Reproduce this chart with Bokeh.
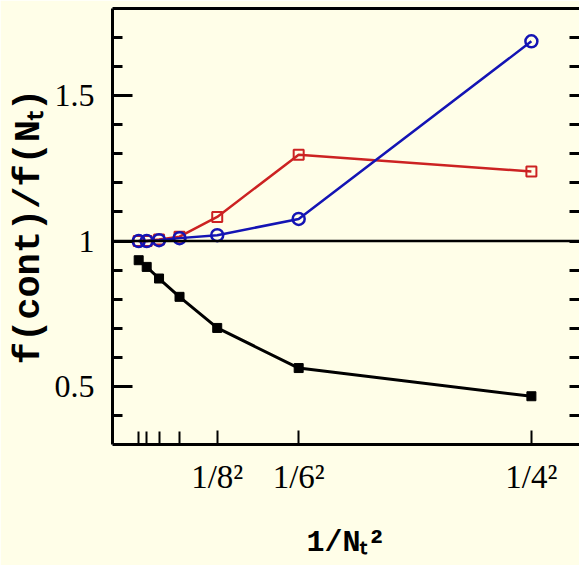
from bokeh.plotting import figure
from bokeh.models import FixedTicker, LinearAxis, Span, Range1d
from bokeh.embed import file_html
from bokeh.resources import INLINE

# ---------------- data ----------------
Nt = [16, 14, 12, 10, 8, 6, 4]
black_vals = [0.934, 0.911, 0.871, 0.808, 0.701, 0.563, 0.466]
red_vals = [1.000, 1.000, 1.005, 1.015, 1.083, 1.297, 1.239]
blue_vals = [1.000, 1.000, 1.003, 1.010, 1.020, 1.076, 1.687]

x_major_Nt = [8, 6, 4]
x_major_text = ["1/8\u00b2", "1/6\u00b2", "1/4\u00b2"]
x_minor_Nt = [16, 14, 12, 10]
y_major_ticks = [0.5, 1.0, 1.5]
y_major_text = ["0.5", "1", "1.5"]
y_minor_ticks = [0.4, 0.5, 0.6, 0.7, 0.8, 0.9, 1.0, 1.1, 1.2, 1.3, 1.4, 1.5, 1.6, 1.7]
x_title = "1/N\u209c\u00b2"
y_title = "f(cont)/f(N\u209c)"

x = [1.0 / n ** 2 for n in Nt]
x_major = [1.0 / n ** 2 for n in x_major_Nt]
x_minor = [1.0 / n ** 2 for n in x_minor_Nt]

BG = "#fffee8"
RED = "#cc2222"
BLUE = "#1414b4"

W, H = 579, 565
LEFT, TOP, BOTTOM, RIGHT = 112, 8, 121, 0
FL, FR = 112.0, 578.0
X0 = 0.0
X1 = 0.0625 * (FR - FL) / (530.0 - FL)
Y0, Y1 = 0.30, 1.80

p = figure(width=W, height=H, output_backend="svg", toolbar_location=None,
           x_range=Range1d(X0, X1), y_range=Range1d(Y0, Y1),
           min_border_left=LEFT, min_border_top=TOP,
           min_border_bottom=BOTTOM, min_border_right=RIGHT,
           background_fill_color=BG, border_fill_color=BG)
p.grid.visible = False
p.outline_line_color = None

MONO = "Liberation Mono"
SERIF = "Liberation Serif"

# x axis
xa = p.xaxis[0]
xa.ticker = FixedTicker(ticks=x_major, minor_ticks=x_minor)
xa.major_label_overrides = {t: s for t, s in zip(x_major, x_major_text)}
xa.major_tick_in = 14
xa.major_tick_out = 0
xa.minor_tick_in = 13
xa.minor_tick_out = 0
xa.major_tick_line_width = 2
xa.minor_tick_line_width = 2
xa.axis_line_width = 3
xa.major_label_standoff = 14
xa.major_label_text_font = SERIF
xa.major_label_text_font_size = "33px"
xa.major_label_text_color = "black"
xa.axis_label = x_title
xa.axis_label_text_font = MONO
xa.axis_label_text_font_style = "bold"
xa.axis_label_text_font_size = "30px"
xa.axis_label_text_color = "black"
xa.axis_label_standoff = 28

# y axis
ya = p.yaxis[0]
ya.ticker = FixedTicker(ticks=y_major_ticks, minor_ticks=y_minor_ticks)
ya.major_label_overrides = {t: s for t, s in zip(y_major_ticks, y_major_text)}
ya.major_tick_in = 20
ya.major_tick_out = 0
ya.minor_tick_in = 10
ya.minor_tick_out = 0
ya.major_tick_line_width = 3
ya.minor_tick_line_width = 3
ya.axis_line_width = 3
ya.major_label_standoff = 18
ya.major_label_text_font = SERIF
ya.major_label_text_font_size = "32px"
ya.major_label_text_color = "black"
ya.axis_label = y_title
ya.axis_label_text_font = MONO
ya.axis_label_text_font_style = "bold"
ya.axis_label_text_font_size = "37px"
ya.axis_label_text_color = "black"
ya.axis_label_standoff = 2

# top frame line (axis without ticks or labels)
ta = LinearAxis(ticker=FixedTicker(ticks=[], minor_ticks=[]),
                axis_line_width=3, major_tick_line_color=None,
                minor_tick_line_color=None, major_label_standoff=0)
p.add_layout(ta, "above")

# right axis: inward ticks only
ra = LinearAxis(ticker=FixedTicker(ticks=[], minor_ticks=y_minor_ticks),
                minor_tick_in=10, minor_tick_out=0, minor_tick_line_width=3,
                major_tick_line_color=None, axis_line_color=None,
                major_label_standoff=0)
p.add_layout(ra, "right")

# reference line at 1
p.add_layout(Span(location=1.0, dimension="width", line_color="black", line_width=2.5))

# series
p.line(x, red_vals, line_color=RED, line_width=2.5)
p.scatter(x, red_vals, marker="square", size=10, fill_color=None,
          line_color=RED, line_width=2)
p.line(x, blue_vals, line_color=BLUE, line_width=2.5)
p.scatter(x, blue_vals, marker="circle", size=12, fill_color=None,
          line_color=BLUE, line_width=2.5)
p.line(x, black_vals, line_color="black", line_width=3)
p.scatter(x, black_vals, marker="square", size=9, fill_color="black",
          line_color="black")

open("out.html", "w").write(file_html(p, INLINE))
